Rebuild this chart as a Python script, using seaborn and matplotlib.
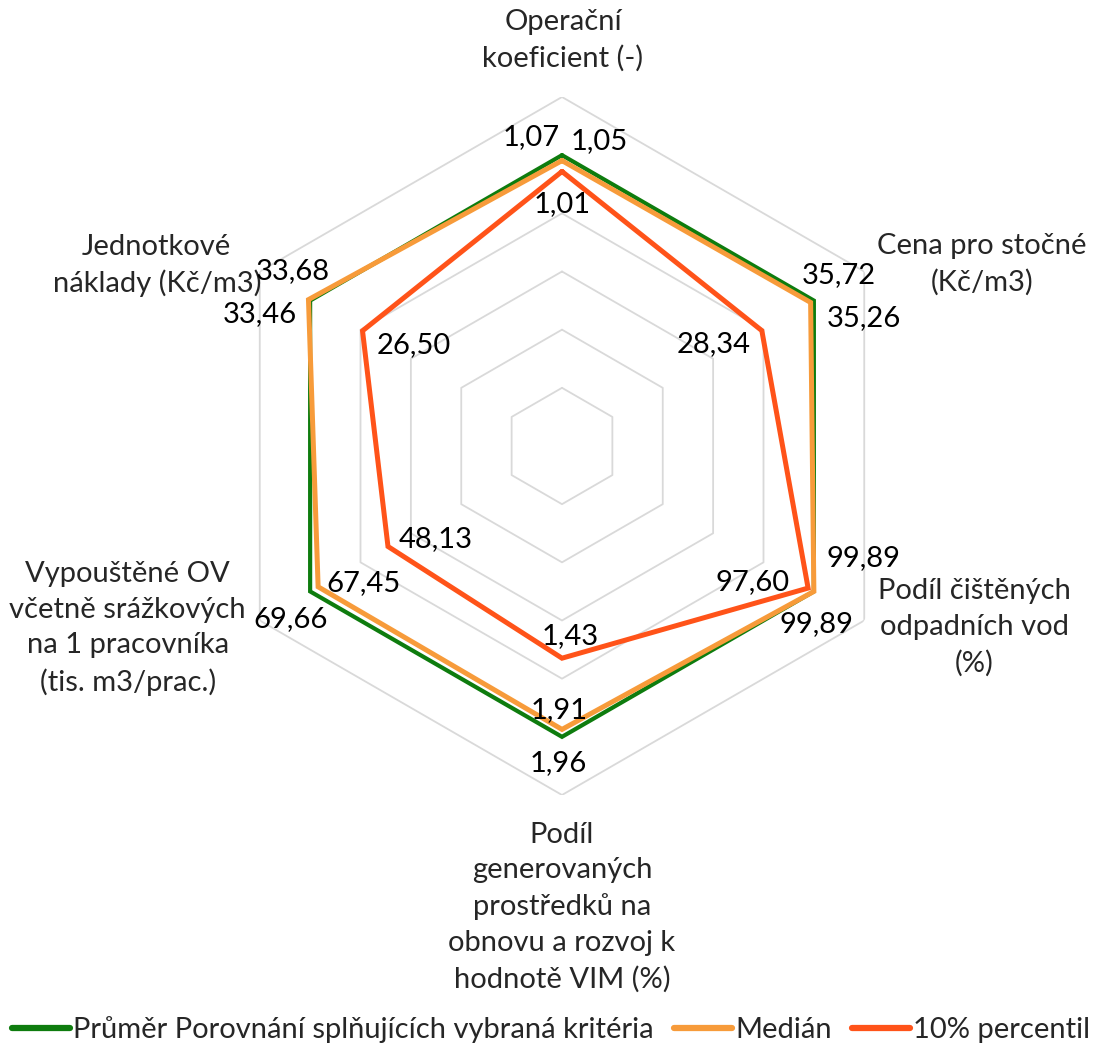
import numpy as np
import pandas as pd
import matplotlib
matplotlib.use("Agg")
import matplotlib.pyplot as plt
import seaborn as sns

# ================================================
# Data
# ================================================
categories = [
    "Operační\nkoeficient (-)",
    "Cena pro stočné\n(Kč/m3)",
    "Podíl čištěných\nodpadních vod\n(%)",
    "Podíl\ngenerovaných\nprostředků na\nobnovu a rozvoj k\nhodnotě VIM (%)",
    "Vypouštěné OV\nvčetně srážkových\nna 1 pracovníka\n(tis. m3/prac.)",
    "Jednotkové\nnáklady (Kč/m3)",
]
series_names = ["Průměr Porovnání splňujících vybraná kritéria", "Medián", "10% percentil"]
prumer = [1.07, 35.72, 99.89, 1.96, 69.66, 33.46]
median = [1.05, 35.26, 99.89, 1.91, 67.45, 33.68]
percentil10 = [1.01, 28.34, 97.60, 1.43, 48.13, 26.50]

# ================================================
# Style
# ================================================
sns.set_style("white")
plt.rcParams["font.family"] = ["Lato", "DejaVu Sans"]
FS = 21

colors = ["#0E7C0E", "#F79B3A", "#FF5319"]
widths = [3.0, 3.6, 3.6]

# label offsets (pixels) for each value label: [series][category]
label_offsets = [
    [(-31, 18), (25, 26), (50, 33), (-4, -26), (-20, -28), (-50, -13)],
    [(37, 20), (53, -16), (3, -33), (-3, 19), (45, 4), (-16, 29)],
    [(0, -33), (-48, -13), (-56, 6), (8, 22), (48, 7), (51, -14)],
]
cat_offsets = [(1, 57), (118, 7), (110, -7), (0, -112), (-132, -8), (-103, 6)]

# normalise every axis to the average series
ref = np.array(prumer)
all_series = [prumer, median, percentil10]

n = len(categories)
theta = np.arange(n) * 2 * np.pi / n

fig = plt.figure(figsize=(11.02, 10.53), dpi=100)
ax = fig.add_axes([213 / 1102, 258 / 1053, 698 / 1102, 698 / 1053], projection="polar")
ax.set_theta_offset(np.pi / 2)
ax.set_theta_direction(-1)
ax.set_ylim(0, 1.2)
ax.grid(False)
ax.spines["polar"].set_visible(False)
ax.set_xticks([])
ax.set_yticks([])

# hexagon grid
theta_closed = np.append(theta, theta[0])
for r in [0.2, 0.4, 0.6, 0.8, 1.0, 1.2]:
    ax.plot(theta_closed, [r] * (n + 1), color="#D9D9D9", lw=1.3, zorder=1)

# series
for i, (name, vals) in enumerate(zip(series_names, all_series)):
    norm = np.array(vals) / ref
    df = pd.DataFrame({"theta": theta_closed, "r": np.append(norm, norm[0])})
    sns.lineplot(data=df, x="theta", y="r", sort=False, estimator=None, ax=ax,
                 color=colors[i], lw=widths[i], label=name, legend=False,
                 zorder=3 + i, solid_joinstyle="miter")
    for j in range(n):
        txt = f"{vals[j]:.2f}".replace(".", ",")
        ax.annotate(txt, xy=(theta[j], norm[j]), xytext=label_offsets[i][j],
                    textcoords="offset pixels", ha="center", va="center",
                    fontsize=FS, color="black", zorder=10, annotation_clip=False)

ax.set_xlabel("")
ax.set_ylabel("")

# category labels
for j in range(n):
    ax.annotate(categories[j], xy=(theta[j], 1.2), xytext=cat_offsets[j],
                textcoords="offset pixels", ha="center", va="center",
                fontsize=FS, linespacing=1.45, annotation_clip=False)

handles = [plt.Line2D([], [], color=c, lw=4.5, solid_capstyle="round") for c in colors]
fig.legend(handles, series_names, loc="center", bbox_to_anchor=(0.5, 1 - 1030 / 1053),
           ncol=3, frameon=False, fontsize=FS, handlelength=2.0, handletextpad=0.1,
           columnspacing=0.7)

fig.savefig("out.png", dpi=100)
